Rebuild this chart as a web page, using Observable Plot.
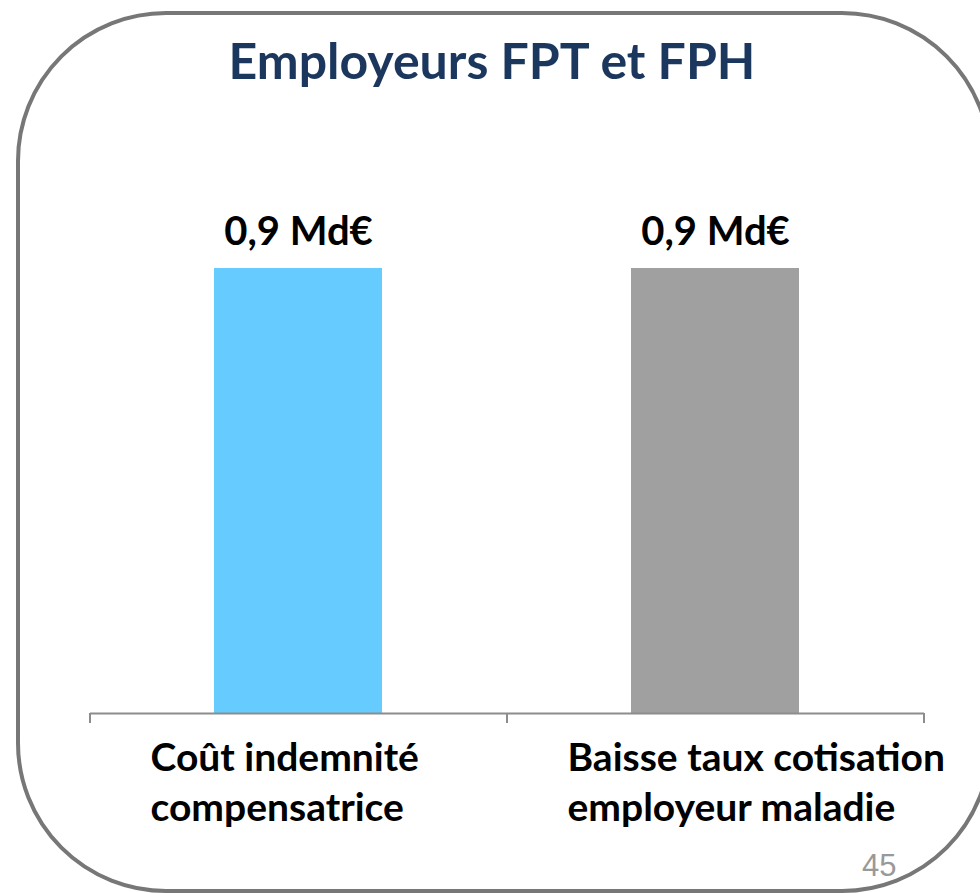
<!DOCTYPE html>
<html>
<head>
<meta charset="utf-8">
<script src="https://cdn.jsdelivr.net/npm/d3@7"></script>
<script src="https://cdn.jsdelivr.net/npm/@observablehq/plot@0.6"></script>
<style>
  html, body { margin: 0; padding: 0; background: #fff; }
  #wrap { position: relative; width: 980px; height: 893px; overflow: hidden; }
  #border { position: absolute; left: 16px; top: 11px; width: 968px; height: 874px;
    border: 4px solid #777; border-radius: 150px; box-sizing: content-box; }
  #title { position: absolute; left: 2px; top: 30px; width: 980px; text-align: center;
    font-family: Lato, sans-serif; font-weight: 700; font-size: 50px; color: #1b375e; }
  #chart { position: absolute; left: 0; top: 100px; }
  #page { position: absolute; left: 862px; top: 850px; font-family: "Liberation Sans", Arial, sans-serif;
    font-size: 31px; line-height: 1; color: #999; }
</style>
</head>
<body>
<div id="wrap">
  <div id="border"></div>
  <div id="title">Employeurs FPT et FPH</div>
  <div id="chart"></div>
  <div id="page">45</div>
</div>
<script>
const categories = ["Coût indemnité\ncompensatrice", "Baisse taux cotisation\nemployeur maladie"];
const values = [0.9, 0.9];
const valueLabels = ["0,9 Md€", "0,9 Md€"];
const colors = ["#66ccff", "#a0a0a0"];

const data = categories.map((c, i) => ({cat: c, value: values[i], label: valueLabels[i], color: colors[i]}));

const plot = Plot.plot({
  width: 980,
  height: 793,
  marginTop: 168,
  marginBottom: 180,
  marginLeft: 90,
  marginRight: 56,
  x: {domain: categories, paddingInner: 0.597, paddingOuter: 0.2985, axis: null},
  y: {domain: [0, 0.9], axis: null},
  style: {fontFamily: "Lato, sans-serif", background: "transparent"},
  marks: [
    Plot.barY(data, {x: "cat", y: "value", fill: "color"}),
    Plot.ruleY([0], {stroke: "#8c8c8c", strokeWidth: 2}),
    Plot.text(data, {x: "cat", y: "value", text: "label", lineAnchor: "bottom", dy: -24,
      fontSize: 40, fontWeight: 700, fill: "#000"}),
    Plot.text(data, {x: "cat", y: 0, text: "cat", lineAnchor: "top", textAnchor: "start",
      dx: -148, dy: 22, fontSize: 39, fontWeight: 700, fill: "#000", lineHeight: 1.28})
  ]
});

// category boundary ticks derived from the band scale
const xs = plot.scale("x");
const ys = plot.scale("y");
const y0 = ys.apply(0);
const [r0] = xs.range;
const step = xs.step;
const svg = d3.select(plot);
const g = svg.append("g").attr("stroke", "#8c8c8c").attr("stroke-width", 2);
d3.range(categories.length + 1).forEach(i => {
  const xx = r0 + i * step;
  g.append("line").attr("x1", xx).attr("x2", xx).attr("y1", y0).attr("y2", y0 + 10);
});

document.getElementById("chart").appendChild(plot);
</script>
</body>
</html>
